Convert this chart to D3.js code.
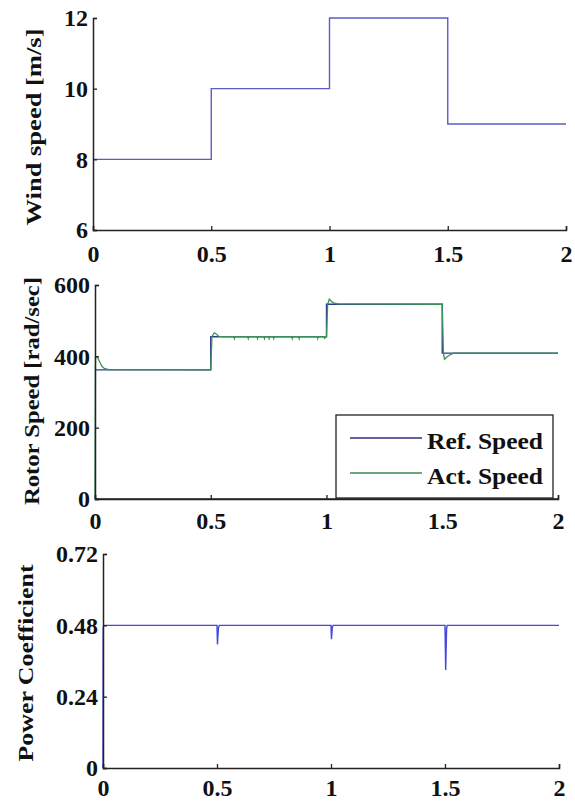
<!DOCTYPE html>
<html><head><meta charset="utf-8">
<script src="https://cdn.jsdelivr.net/npm/d3@7"></script>
<style>
html,body{margin:0;padding:0;background:#fff;}
svg text{font-family:"Liberation Serif","Times New Roman",serif;font-weight:bold;fill:#111;}
</style></head>
<body><svg id="c" width="575" height="802"></svg>
<script>
// ---- data ----
const xTicks = [0, 0.5, 1, 1.5, 2];
const xTickLabels = ["0", "0.5", "1", "1.5", "2"];

const windTicks = [6, 8, 10, 12];
const windT = [0, 0.5, 0.5, 1, 1, 1.5, 1.5, 2];
const windV = [8, 8, 10, 10, 12, 12, 9, 9];

const rotorTicks = [0, 200, 400, 600];
const refT = [0, 0.5, 0.5, 1, 1, 1.5, 1.5, 2];
const refV = [362, 362, 455, 455, 546, 546, 409, 409];
const actT = [0, 0.002, 0.01, 0.02, 0.03, 0.04, 0.06, 0.5, 0.505, 0.515, 0.525, 0.535, 0.6, 0.602, 0.604, 0.66, 0.662, 0.664, 0.7, 0.702, 0.704, 0.73, 0.732, 0.734, 0.75, 0.752, 0.754, 0.77, 0.772, 0.774, 0.85, 0.852, 0.854, 0.88, 0.882, 0.884, 0.96, 0.962, 0.964, 0.99, 0.992, 0.994, 1, 1.005, 1.012, 1.02, 1.03, 1.05, 1.5, 1.505, 1.51, 1.52, 1.535, 1.55, 2];
const actV = [0, 400, 398, 385, 372, 366, 363, 362, 455, 466, 462, 456, 455, 450, 455, 455, 450, 455, 455, 450, 455, 455, 450, 455, 455, 450, 455, 455, 450, 455, 455, 450, 455, 455, 450, 455, 455, 450, 455, 455, 449, 455, 455, 546, 560, 555, 550, 547, 546, 409, 392, 398, 405, 409, 409];

const cpTicks = [0, 0.24, 0.48, 0.72];
const cpT = [0, 0.001, 0.003, 0.5, 0.502, 0.506, 0.51, 1, 1.002, 1.006, 1.01, 1.5, 1.503, 1.507, 1.51, 2];
const cpV = [0, 0.47, 0.48, 0.48, 0.416, 0.47, 0.48, 0.48, 0.433, 0.475, 0.48, 0.48, 0.33, 0.47, 0.48, 0.48];

const legendLabels = ["Ref. Speed", "Act. Speed"];

// ---- drawing ----
const svg = d3.select("#c");

function panel(o) {
  const x = d3.scaleLinear().domain([0, 2]).range(o.xr);
  const y = d3.scaleLinear().domain(o.yd).range(o.yr);
  const g = svg.append("g");
  const line = d3.line().x(d => x(d[0])).y(d => y(d[1]));
  o.series.forEach(s => {
    g.append("path").datum(s.t.map((t, i) => [t, s.v[i]]))
      .attr("d", line).attr("fill", "none")
      .attr("stroke", s.color).attr("stroke-width", s.w || 1.4);
  });
  const xa = g.append("g").attr("transform", `translate(0,${o.yr[0]})`)
    .call(d3.axisBottom(x).tickValues(xTicks).tickFormat((d, i) => xTickLabels[i]).tickSize(-4).tickPadding(0));
  xa.select(".domain").attr("stroke", "#222").attr("stroke-width", 1.5);
  xa.selectAll(".tick line").attr("stroke", "#222").attr("stroke-width", 1.3);
  xa.selectAll(".tick text").attr("font-size", 24).attr("font-family", "Liberation Serif").attr("font-weight", "bold")
    .attr("fill", "#111").attr("y", o.xLabelDy).attr("dy", 0);
  const ya = g.append("g").attr("transform", `translate(${o.xr[0]},0)`)
    .call(d3.axisLeft(y).tickValues(o.yTicks).tickFormat(o.fmt).tickSize(-4).tickPadding(5));
  ya.select(".domain").attr("stroke", "#222").attr("stroke-width", 1.5);
  ya.selectAll(".tick line").attr("stroke", "#222").attr("stroke-width", 1.3);
  ya.selectAll(".tick text").attr("font-size", 24).attr("font-family", "Liberation Serif").attr("font-weight", "bold")
    .attr("fill", "#111").attr("x", -5).attr("dy", "0.33em");
  g.append("text").attr("transform", `translate(${o.tx},${o.ty}) rotate(-90)`)
    .attr("text-anchor", "middle").attr("font-size", 21)
    .attr("textLength", o.tl).attr("lengthAdjust", "spacingAndGlyphs")
    .text(o.title);
  return {g, x, y};
}

panel({
  xr: [93, 566], yd: [6, 12], yr: [230, 18], yTicks: windTicks, fmt: d3.format("d"),
  xLabelDy: 32, tx: 41, ty: 127, tl: 197, title: "Wind speed [m/s]",
  series: [{t: windT, v: windV, color: "#5c5cc8"}]
});

const mid = panel({
  xr: [95, 558], yd: [0, 600], yr: [499, 285], yTicks: rotorTicks, fmt: d3.format("d"),
  xLabelDy: 30, tx: 39, ty: 391, tl: 228, title: "Rotor Speed [rad/sec]",
  series: [{t: refT, v: refV, color: "#2f3a8f"}, {t: actT, v: actV, color: "#3b8f5a", w: 1.3}]
});

panel({
  xr: [103, 559], yd: [0, 0.72], yr: [768, 554], yTicks: cpTicks, fmt: d => d === 0 ? "0" : d3.format(".2f")(d),
  xLabelDy: 28, tx: 33, ty: 663, tl: 197, title: "Power Coefficient",
  series: [{t: cpT, v: cpV, color: "#4646e0"}]
});

// legend
const lg = svg.append("g");
lg.append("rect").attr("x", 336).attr("y", 415).attr("width", 217).attr("height", 83)
  .attr("fill", "#fff").attr("stroke", "#222").attr("stroke-width", 1.3);
const legendColors = ["#2f2f80", "#3b8a4a"];
const legendY = [438, 473];
legendLabels.forEach((lab, i) => {
  lg.append("line").attr("x1", 350).attr("x2", 422).attr("y1", legendY[i]).attr("y2", legendY[i])
    .attr("stroke", legendColors[i]).attr("stroke-width", 1.3);
  lg.append("text").attr("x", 427).attr("y", legendY[i] + 11).attr("font-size", 23)
    .attr("textLength", 116).attr("lengthAdjust", "spacingAndGlyphs").text(lab);
});
// redraw bottom axis line over the legend box
svg.append("line").attr("x1", 95).attr("x2", 558).attr("y1", 499).attr("y2", 499)
  .attr("stroke", "#222").attr("stroke-width", 1.5);
</script></body></html>
